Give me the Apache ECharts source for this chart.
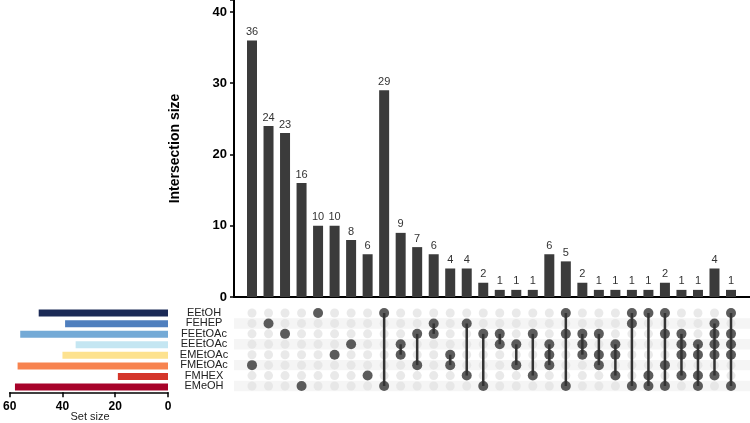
<!DOCTYPE html>
<html><head><meta charset="utf-8">
<script src="https://cdn.jsdelivr.net/npm/echarts@6/dist/echarts.min.js"></script>
<style>html,body{margin:0;padding:0;background:#fff}#c{width:750px;height:423px}</style>
</head><body><div id="c"></div>
<script>
const sets = ['EEtOH','FEHEP','FEEtOAc','EEEtOAc','EMEtOAc','FMEtOAc','FMHEX','EMeOH'];
const setSizes = [49,39,56,35,40,57,19,58];
const setColors = ['#1b2a56','#4f7fbe','#74aad6','#c4e6f2','#fde28f','#f7834f','#d4352a','#a7032a'];
const intersectionSizes = [36,24,23,16,10,10,8,6,29,9,7,6,4,4,2,1,1,1,6,5,2,1,1,1,1,2,1,1,4,1];
const intersectionMembers = [
  ['FMEtOAc'],['FEHEP'],['FEEtOAc'],['EMeOH'],['EEtOH'],['EMEtOAc'],['EEEtOAc'],['FMHEX'],
  ['EEtOH','EMeOH'],['EEEtOAc','EMEtOAc'],['FEEtOAc','FMEtOAc'],['FEHEP','FEEtOAc'],
  ['EMEtOAc','FMEtOAc'],['FEHEP','FMHEX'],['FEEtOAc','EMeOH'],['FEEtOAc','EEEtOAc'],
  ['EEEtOAc','FMEtOAc'],['FEEtOAc','FMHEX'],['EEEtOAc','EMEtOAc','FMEtOAc'],
  ['EEtOH','FEEtOAc','EMeOH'],['FEEtOAc','EEEtOAc','EMEtOAc'],['FEEtOAc','EMEtOAc','FMEtOAc'],
  ['EEEtOAc','EMEtOAc','FMHEX'],['EEtOH','FEHEP','EMeOH'],['EEtOH','FMHEX','EMeOH'],
  ['EEtOH','FEEtOAc','FMEtOAc','EMeOH'],['FEEtOAc','EEEtOAc','EMEtOAc','FMHEX'],
  ['EEEtOAc','EMEtOAc','FMHEX','EMeOH'],['FEHEP','FEEtOAc','EEEtOAc','EMEtOAc','FMHEX'],
  ['EEtOH','FEEtOAc','EEEtOAc','EMEtOAc','EMeOH']
];
const sizeTickStep = 20;

const FONT = 'Liberation Sans, Arial, sans-serif';
const n = intersectionSizes.length;
const barData = intersectionSizes.map((v,i)=>[i,v]);
const emptyDots = [], fullDots = [], links = [];
for (let i=0;i<n;i++){
  const idx = intersectionMembers[i].map(s=>sets.indexOf(s));
  for (let r=0;r<sets.length;r++){
    if (idx.indexOf(r) < 0) emptyDots.push([i,r]); else fullDots.push([i,r]);
  }
  if (idx.length>1) links.push([i, Math.min(...idx), Math.max(...idx)]);
}
const stripeRows = [];
for (let r=1;r<sets.length;r+=2) stripeRows.push([0, r]);

const chart = echarts.init(document.getElementById('c'), null, {renderer:'canvas'});
const xMin = -1.09, xMax = 30.15;
chart.setOption({
  animation:false,
  textStyle:{fontFamily:FONT},
  grid:[
    {left:234, width:516, top:0, height:297},
    {left:234, width:516, top:307.8, height:83.4},
    {left:7.5, width:160.5, top:307.8, height:84.5}
  ],
  graphic:[
    {type:'text', x:90, y:417, silent:true,
     style:{text:'Set size', fill:'#222', font:'11px ' + FONT, textAlign:'center', textVerticalAlign:'middle'}}
  ],
  xAxis:[
    {gridIndex:0, type:'value', min:xMin, max:xMax, show:true,
     axisLine:{show:true, onZero:false, lineStyle:{color:'#000', width:2}},
     axisTick:{show:false}, axisLabel:{show:false}, splitLine:{show:false}},
    {gridIndex:1, type:'value', min:xMin, max:xMax, show:false},
    {gridIndex:2, type:'value', position:'bottom', min:0, max:60, interval:sizeTickStep, inverse:true,
     axisLine:{show:true, lineStyle:{color:'#000', width:1.5}},
     axisTick:{show:true, length:5, lineStyle:{color:'#000', width:1.5}},
     axisLabel:{color:'#000', fontWeight:'bold', fontSize:12, margin:8, hideOverlap:false},
     splitLine:{show:false}}
  ],
  yAxis:[
    {gridIndex:0, type:'value', min:0, max:41.68, interval:10,
     axisLine:{show:true, onZero:false, lineStyle:{color:'#000', width:2}},
     axisTick:{show:true, length:4, lineStyle:{color:'#000', width:1.5}},
     axisLabel:{color:'#000', fontWeight:'bold', fontSize:13, margin:7,
       formatter: v => (v%10===0) ? String(v) : ''},
     splitLine:{show:false},
     name:'Intersection size', nameLocation:'middle', nameGap:52,
     nameTextStyle:{color:'#000', fontWeight:'bold', fontSize:14}},
    {gridIndex:1, type:'category', data:sets, inverse:true,
     axisLine:{show:false}, axisTick:{show:false},
     axisLabel:{color:'#222', fontSize:11, align:'center', margin:30, interval:0, hideOverlap:false}},
    {gridIndex:2, type:'category', data:sets, inverse:true, show:false}
  ],
  series:[
    {type:'bar', xAxisIndex:0, yAxisIndex:0, data:barData, barWidth:10,
     itemStyle:{color:'#3b3b3b'},
     label:{show:true, position:'top', distance:3, color:'#333', fontSize:11,
       formatter: p => String(p.value[1])}},
    {type:'custom', xAxisIndex:1, yAxisIndex:1, data:stripeRows, z:1, silent:true,
     encode:{x:0, y:1},
     renderItem:(params, api)=>{
       const cs = params.coordSys;
       const p = api.coord([0, api.value(1)]);
       const h = api.size([0, 1])[1];
       return {type:'rect', shape:{x:cs.x, y:p[1]-h/2, width:cs.width, height:h},
               style:{fill:'#f5f5f5'}};
     }},
    {type:'scatter', xAxisIndex:1, yAxisIndex:1, data:emptyDots, symbolSize:9,
     itemStyle:{color:'#e3e3e3'}, z:2},
    {type:'custom', xAxisIndex:1, yAxisIndex:1, data:links, z:3,
     encode:{x:0, y:[1,2]},
     renderItem:(params, api)=>{
       const c = api.value(0);
       const a = api.coord([c, api.value(1)]);
       const b = api.coord([c, api.value(2)]);
       return {type:'line', shape:{x1:a[0],y1:a[1],x2:b[0],y2:b[1]},
               style:{stroke:'#333', lineWidth:2.5}};
     }},
    {type:'scatter', xAxisIndex:1, yAxisIndex:1, data:fullDots, symbolSize:10,
     itemStyle:{color:'#333'}, z:4},
    {type:'bar', xAxisIndex:2, yAxisIndex:2, barWidth:7,
     data: setSizes.map((v,i)=>({value:v, itemStyle:{color:setColors[i]}}))}
  ]
});
</script></body></html>
